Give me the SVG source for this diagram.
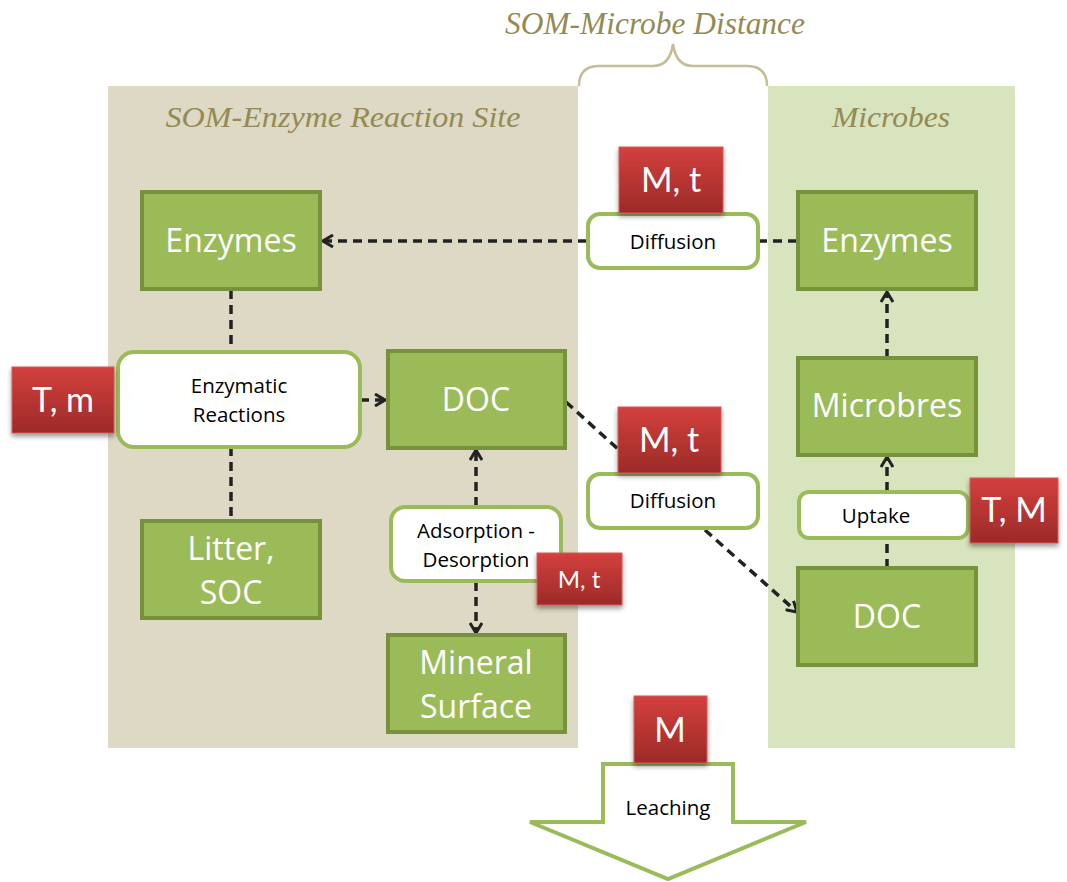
<svg xmlns="http://www.w3.org/2000/svg" width="1067" height="882" viewBox="0 0 1067 882">
  <defs>
    <linearGradient id="redGrad" x1="0" y1="0" x2="0" y2="1">
      <stop offset="0" stop-color="#d3403d"/>
      <stop offset="1" stop-color="#9c2a28"/>
    </linearGradient>
    <filter id="shadow" x="-20%" y="-20%" width="140%" height="150%">
      <feDropShadow dx="0" dy="3" stdDeviation="2.5" flood-color="#000" flood-opacity="0.4"/>
    </filter>
    <marker id="chev" viewBox="0 0 12 14" refX="11" refY="7" markerWidth="12" markerHeight="14" markerUnits="userSpaceOnUse" orient="auto">
      <path d="M1,1 L11,7 L1,13" fill="none" stroke="#222" stroke-width="3"/>
    </marker>
    <style>
      .zone-title { font-family: "Liberation Serif", "DejaVu Serif", serif; font-style: italic; fill: #948a54; }
      .gbox { fill: #9bbb59; stroke: #76923c; stroke-width: 4; }
      .gtext { font-family: "Open Sans", Lato, sans-serif; font-size: 32px; fill: #fff; text-anchor: middle; }
      .pbox { fill: #fff; stroke: #9bbb59; stroke-width: 4; }
      .ptext { font-family: "Open Sans", Lato, sans-serif; font-size: 20.5px; fill: #000; text-anchor: middle; }
      .rbox { fill: url(#redGrad); stroke: #d45b59; stroke-width: 1; filter: url(#shadow); }
      .rtext { font-family: Lato, "Open Sans", sans-serif; fill: #fff; text-anchor: middle; }
      .dash { fill: none; stroke: #222; stroke-width: 3.5; stroke-dasharray: 9 6; }
    </style>
  </defs>

  <!-- zones -->
  <g id="zones">
    <rect x="108" y="86" width="470" height="662" fill="#ddd9c4"/>
    <rect x="768" y="86" width="247" height="662" fill="#d7e4bd"/>
    <path d="M579,86 Q579,66 599,66 L653,66 Q670,66 673,44 Q676,66 693,66 L747,66 Q767,66 767,86" fill="none" stroke="#c4bd97" stroke-width="2.5"/>
    <text class="zone-title" x="655" y="34" font-size="31" text-anchor="middle" textLength="300" lengthAdjust="spacingAndGlyphs">SOM-Microbe Distance</text>
    <text class="zone-title" x="343" y="127" font-size="30" text-anchor="middle" textLength="355" lengthAdjust="spacingAndGlyphs">SOM-Enzyme Reaction Site</text>
    <text class="zone-title" x="891" y="127" font-size="30" text-anchor="middle" textLength="118" lengthAdjust="spacingAndGlyphs">Microbes</text>
  </g>

  <!-- connectors -->
  <g id="connectors">
    <line class="dash" x1="797" y1="241" x2="758" y2="241"/>
    <line class="dash" x1="587" y1="241" x2="323" y2="241" marker-end="url(#chev)"/>
    <line class="dash" x1="231" y1="290" x2="231" y2="352"/>
    <line class="dash" x1="231" y1="447" x2="231" y2="520"/>
    <line class="dash" x1="360" y1="400" x2="385" y2="400" marker-end="url(#chev)"/>
    <line class="dash" x1="566" y1="402" x2="619" y2="450"/>
    <line class="dash" x1="705" y1="530" x2="797" y2="612" marker-end="url(#chev)"/>
    <line class="dash" x1="476" y1="506" x2="476" y2="450" marker-end="url(#chev)"/>
    <line class="dash" x1="476" y1="582" x2="476" y2="633" marker-end="url(#chev)"/>
    <line class="dash" x1="887" y1="358" x2="887" y2="292" marker-end="url(#chev)"/>
    <line class="dash" x1="887" y1="491" x2="887" y2="457" marker-end="url(#chev)"/>
    <line class="dash" x1="887" y1="568" x2="887" y2="539"/>
  </g>

  <!-- green state boxes -->
  <g id="enzymes-left">
    <rect class="gbox" x="142" y="192" width="178" height="97"/>
    <text class="gtext" x="231" y="252">Enzymes</text>
  </g>
  <g id="doc-left">
    <rect class="gbox" x="388" y="351" width="177" height="97"/>
    <text class="gtext" x="476" y="411">DOC</text>
  </g>
  <g id="litter-soc">
    <rect class="gbox" x="142" y="521" width="178" height="97"/>
    <text class="gtext" x="231" y="560">Litter,</text>
    <text class="gtext" x="231" y="604">SOC</text>
  </g>
  <g id="mineral-surface">
    <rect class="gbox" x="388" y="635" width="177" height="97"/>
    <text class="gtext" x="476" y="674">Mineral</text>
    <text class="gtext" x="476" y="718">Surface</text>
  </g>
  <g id="enzymes-right">
    <rect class="gbox" x="798" y="192" width="178" height="97"/>
    <text class="gtext" x="887" y="252">Enzymes</text>
  </g>
  <g id="microbres">
    <rect class="gbox" x="798" y="358" width="178" height="97"/>
    <text class="gtext" x="887" y="417">Microbres</text>
  </g>
  <g id="doc-right">
    <rect class="gbox" x="798" y="568" width="178" height="97"/>
    <text class="gtext" x="887" y="628">DOC</text>
  </g>

  <!-- process boxes -->
  <g id="enzymatic-reactions">
    <rect class="pbox" x="118" y="352" width="242" height="95" rx="16"/>
    <text class="ptext" x="239" y="393">Enzymatic</text>
    <text class="ptext" x="239" y="422">Reactions</text>
  </g>
  <g id="diffusion-top">
    <rect class="pbox" x="588" y="214" width="170" height="54" rx="12"/>
    <text class="ptext" x="673" y="249">Diffusion</text>
  </g>
  <g id="diffusion-mid">
    <rect class="pbox" x="588" y="474" width="170" height="54" rx="12"/>
    <text class="ptext" x="673" y="508">Diffusion</text>
  </g>
  <g id="adsorption-desorption">
    <rect class="pbox" x="391" y="507" width="170" height="74" rx="14"/>
    <text class="ptext" x="476" y="538">Adsorption -</text>
    <text class="ptext" x="476" y="567">Desorption</text>
  </g>
  <g id="uptake">
    <rect class="pbox" x="799" y="492" width="169" height="46" rx="10"/>
    <text class="ptext" x="876" y="523">Uptake</text>
  </g>
  <g id="leaching">
    <path class="pbox" d="M603,764 L733,764 L733,822 L806,822 L668,879 L530,822 L603,822 Z"/>
    <text class="ptext" x="668" y="815">Leaching</text>
  </g>

  <!-- controlling factors -->
  <g id="factor-tm">
    <rect class="rbox" x="12" y="367" width="102" height="66"/>
    <text class="rtext" x="63" y="412" font-size="34">T, m</text>
  </g>
  <g id="factor-mt-top">
    <rect class="rbox" x="619" y="147" width="104" height="66"/>
    <text class="rtext" x="671" y="192" font-size="34">M, t</text>
  </g>
  <g id="factor-mt-mid">
    <rect class="rbox" x="618" y="407" width="103" height="66"/>
    <text class="rtext" x="669" y="452" font-size="34">M, t</text>
  </g>
  <g id="factor-mt-small">
    <rect class="rbox" x="537" y="553" width="85" height="52"/>
    <text class="rtext" x="579" y="588" font-size="24">M, t</text>
  </g>
  <g id="factor-TM">
    <rect class="rbox" x="970" y="478" width="88" height="65"/>
    <text class="rtext" x="1014" y="522" font-size="34">T, M</text>
  </g>
  <g id="factor-m">
    <rect class="rbox" x="634" y="696" width="73" height="67"/>
    <text class="rtext" x="670" y="742" font-size="34">M</text>
  </g>
</svg>
